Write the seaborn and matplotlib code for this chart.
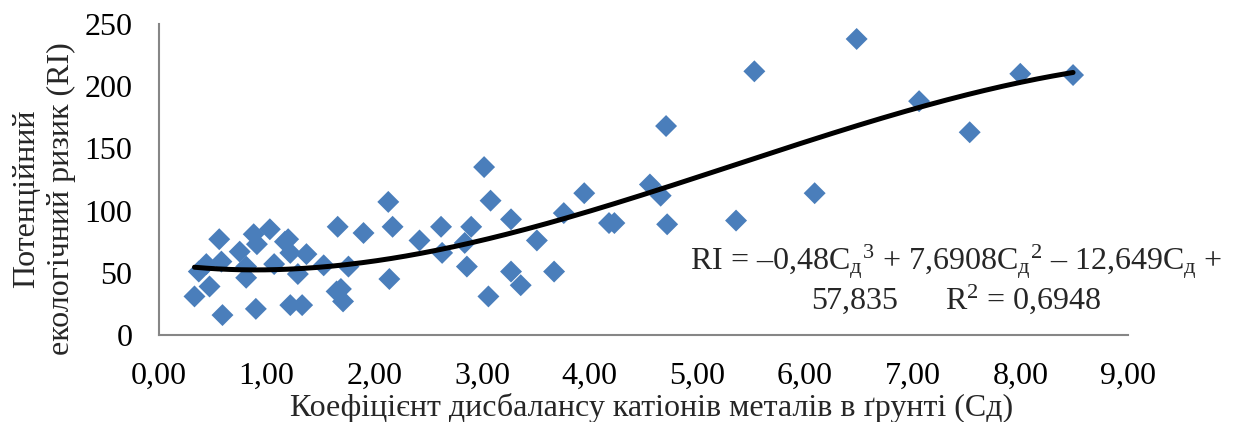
import numpy as np
import pandas as pd
import matplotlib
matplotlib.use("Agg")
import matplotlib.pyplot as plt
import seaborn as sns

# ---- data ----
cd_values = [0.33, 0.37, 0.44, 0.47, 0.56, 0.58, 0.59, 0.75, 0.81, 0.81,
             0.88, 0.91, 0.90, 1.03, 1.07, 1.17, 1.20, 1.22, 1.22, 1.29,
             1.33, 1.37, 1.53, 1.66, 1.65, 1.69, 1.71, 1.76, 1.90, 2.13,
             2.17, 2.14, 2.42, 2.62, 2.63, 2.86, 2.84, 2.90, 3.02, 3.08,
             3.06, 3.27, 3.27, 3.36, 3.51, 3.67, 3.76, 3.95, 4.18, 4.23,
             4.56, 4.66, 4.72, 4.71, 5.36, 5.53, 6.09, 6.48, 7.06, 7.53,
             8.00, 8.49]
ri_values = [31, 51, 57, 39, 77, 59, 16, 67, 55, 46,
             81, 73, 21, 85, 57, 75, 77, 66, 24, 49,
             24, 65, 56, 87, 35, 37, 27, 55, 82, 107,
             87, 45, 76, 87, 66, 55, 74, 87, 135, 108,
             31, 93, 51, 40, 76, 51, 98, 114, 90, 90,
             121, 112, 89, 168, 92, 212, 114, 238, 188, 163,
             210, 209]
# trend-line coefficients shown on the chart (cubic, highest power first)
trend_coeffs = [-0.48, 7.6908, -12.649, 57.835]
x_ticks = [0, 1, 2, 3, 4, 5, 6, 7, 8, 9]
x_tick_labels = ["0,00", "1,00", "2,00", "3,00", "4,00", "5,00", "6,00", "7,00", "8,00", "9,00"]
y_ticks = [0, 50, 100, 150, 200, 250]
y_tick_labels = ["0", "50", "100", "150", "200", "250"]

df = pd.DataFrame({"Cd": cd_values, "RI": ri_values})
xs = np.linspace(min(cd_values), max(cd_values), 300)
trend = pd.DataFrame({"Cd": xs, "RI": np.polyval(trend_coeffs, xs)})

sns.set_theme(style="white")
plt.rcParams["font.family"] = ["Liberation Serif", "DejaVu Serif"]
plt.rcParams["mathtext.fontset"] = "custom"
plt.rcParams["mathtext.rm"] = "Liberation Serif"
plt.rcParams["mathtext.it"] = "Liberation Serif:italic"
plt.rcParams["mathtext.bf"] = "Liberation Serif:bold"

FS = 23

fig = plt.figure(figsize=(12.36, 4.22), dpi=100)
ax = fig.add_axes([0.1286, 0.2062, 0.7840, 0.7368])

sns.scatterplot(data=df, x="Cd", y="RI", marker="D", s=125, color="#4A7EBB",
                edgecolor="none", ax=ax, zorder=2)
sns.lineplot(data=trend, x="Cd", y="RI", color="black", linewidth=3.6, ax=ax,
             zorder=3)

ax.set_xlim(0, 9)
ax.set_ylim(0, 250)
ax.set_xticks(x_ticks)
ax.set_xticklabels(x_tick_labels)
ax.set_yticks(y_ticks)
ax.set_yticklabels(y_tick_labels)
ax.tick_params(axis="both", labelsize=FS, colors="black", direction="out",
               length=7, width=1.2, color="#868686")
ax.tick_params(axis="x", pad=12)
ax.tick_params(axis="y", pad=12)
for side in ["top", "right"]:
    ax.spines[side].set_visible(False)
for side in ["left", "bottom"]:
    ax.spines[side].set_color("#868686")
    ax.spines[side].set_linewidth(1.5)
ax.grid(False)

ax.set_xlabel("Коефіцієнт дисбалансу катіонів металів в ґрунті (Сд)", fontsize=FS)
ax.xaxis.set_label_coords(0.508, -0.185)
ax.set_ylabel("")
fig.text(44 / 1236, 1 - 199 / 422, "Потенційний\nекологічний ризик (RI)",
         fontsize=FS, rotation=90, ha="center", va="center", linespacing=1.28,
         multialignment="center")

eq_text = (r"RI = –0,48C$_\mathregular{д}{}^\mathregular{3}$ + 7,6908C$_\mathregular{д}{}^\mathregular{2}$"
           r" – 12,649C$_\mathregular{д}$ +" "\n"
           r"57,835      R$^\mathregular{2}$ = 0,6948")
fig.text(956 / 1236, 1 - 279 / 422, eq_text, fontsize=FS, ha="center", va="center",
         multialignment="center", linespacing=1.0)

fig.savefig("out.png", dpi=100)
